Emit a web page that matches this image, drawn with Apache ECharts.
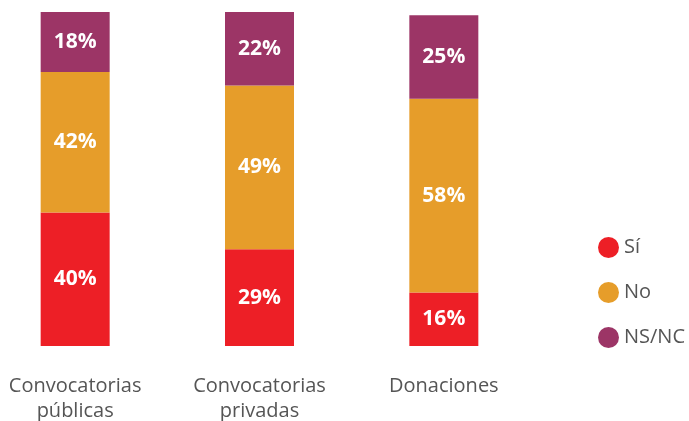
<!DOCTYPE html>
<html>
<head>
<meta charset="utf-8">
<script src="https://cdn.jsdelivr.net/npm/echarts@6/dist/echarts.min.js"></script>
<style>
  html, body { margin: 0; padding: 0; background: #fff; }
  #chart { width: 689px; height: 421px; }
</style>
</head>
<body>
<div id="chart"></div>
<script>
// datos
const categorias = ["Convocatorias\npúblicas", "Convocatorias\nprivadas", "Donaciones"];
const si = [40, 29, 16];
const no = [42, 49, 58];
const nsnc = [18, 22, 25];

const colores = { si: "#ed1f26", no: "#e69d2a", nsnc: "#9c3566" };

const myChart = echarts.init(document.getElementById("chart"));

const etiqueta = {
  show: true,
  position: "inside",
  color: "#fff",
  fontFamily: "Open Sans",
  fontWeight: "bold",
  fontSize: 21,
  formatter: (p) => p.value + "%",
};

const serie = (name, data, color) => ({
  name,
  type: "bar",
  stack: "total",
  data,
  barWidth: 69,
  itemStyle: { color },
  label: etiqueta,
});

const option = {
  animation: false,
  legend: {
    orient: "vertical",
    left: 593,
    top: 232,
    icon: "circle",
    itemWidth: 21,
    itemHeight: 21,
    itemGap: 24,
    itemStyle: { borderWidth: 0 },
    textStyle: { color: "#555", fontSize: 20, fontFamily: "Open Sans" },
    data: ["Sí", "No", "NS/NC"],
  },
  grid: { left: -17, width: 553, top: 12, bottom: 75, outerBoundsMode: "none", containLabel: false },
  xAxis: {
    type: "category",
    data: categorias,
    axisLine: { show: false },
    axisTick: { show: false },
    axisLabel: {
      color: "#555",
      fontSize: 20,
      fontFamily: "Open Sans",
      lineHeight: 25,
      margin: 28,
    },
  },
  yAxis: {
    type: "value",
    min: 0,
    max: 100,
    show: false,
  },
  series: [
    serie("Sí", si, colores.si),
    serie("No", no, colores.no),
    serie("NS/NC", nsnc, colores.nsnc),
  ],
};

myChart.setOption(option);
</script>
</body>
</html>
